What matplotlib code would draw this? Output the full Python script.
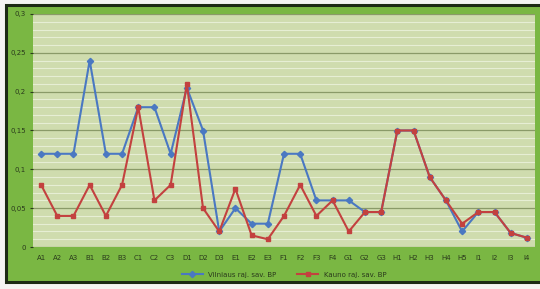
import numpy as np
import matplotlib
matplotlib.use("Agg")
import matplotlib.pyplot as plt
from matplotlib.patches import Rectangle
from matplotlib.ticker import MultipleLocator, FuncFormatter

categories = ["A1", "A2", "A3", "B1", "B2", "B3", "C1", "C2", "C3", "D1", "D2", "D3",
              "E1", "E2", "E3", "F1", "F2", "F3", "F4", "G1", "G2", "G3",
              "H1", "H2", "H3", "H4", "H5", "I1", "I2", "I3", "I4"]
vilniaus = [0.12, 0.12, 0.12, 0.24, 0.12, 0.12, 0.18, 0.18, 0.12, 0.205, 0.15, 0.02,
            0.05, 0.03, 0.03, 0.12, 0.12, 0.06, 0.06, 0.06, 0.045, 0.045,
            0.15, 0.15, 0.09, 0.06, 0.02, 0.045, 0.045, 0.018, 0.012]
kauno = [0.08, 0.04, 0.04, 0.08, 0.04, 0.08, 0.18, 0.06, 0.08, 0.21, 0.05, 0.02,
         0.075, 0.015, 0.01, 0.04, 0.08, 0.04, 0.06, 0.02, 0.045, 0.045,
         0.15, 0.15, 0.09, 0.06, 0.03, 0.045, 0.045, 0.018, 0.012]
names = ["Vilniaus raj. sav. BP", "Kauno raj. sav. BP"]

W, H = 540, 289
fig = plt.figure(figsize=(W / 100, H / 100), dpi=100)
fig.patch.set_facecolor("#f4f4f2")

# green frame with dark border, behind the axes
frame = Rectangle((6 / W, (H - 282) / H), (545 - 6) / W, (282 - 5) / H,
                  transform=fig.transFigure, facecolor="#7ab743",
                  edgecolor="#1c2a14", linewidth=2.2, zorder=-1)
fig.patches.append(frame)

ax = fig.add_axes([33 / W, (H - 247) / H, 502 / W, (247 - 14) / H])
ax.set_zorder(1)
ax.set_facecolor("#cfdcae")
x = np.arange(len(categories))

ax.plot(x, vilniaus, color="#4a78c2", lw=1.5, marker="D", ms=3.2, label=names[0], zorder=3)
ax.plot(x, kauno, color="#c3413f", lw=1.5, marker="s", ms=3.2, label=names[1], zorder=4)

ax.set_xlim(-0.5, len(categories) - 0.5)
ax.set_ylim(0, 0.3)
ax.yaxis.set_major_locator(MultipleLocator(0.05))
ax.yaxis.set_minor_locator(MultipleLocator(0.01))
ax.yaxis.set_major_formatter(FuncFormatter(lambda v, p: ("%g" % round(v, 2)).replace(".", ",")))
ax.grid(axis="y", which="major", color="#8a9a68", lw=0.9, zorder=1)
ax.grid(axis="y", which="minor", color="#e6eed4", lw=0.8, zorder=1)
ax.set_axisbelow(True)

ax.set_xticks(x)
ax.set_xticklabels(categories)
ax.tick_params(axis="x", length=0, labelsize=5, colors="#2a3a1c", pad=6)
ax.tick_params(axis="y", which="major", length=2, labelsize=5, colors="#2a3a1c", pad=3)
ax.tick_params(axis="y", which="minor", length=0)
for s in ax.spines.values():
    s.set_visible(False)

ax.legend(loc="upper center", bbox_to_anchor=(0.5, -0.08), ncol=2, frameon=False,
          fontsize=5, handlelength=3, columnspacing=3, labelcolor="#2a3a1c")

fig.savefig("out.png", dpi=100, facecolor=fig.get_facecolor())
